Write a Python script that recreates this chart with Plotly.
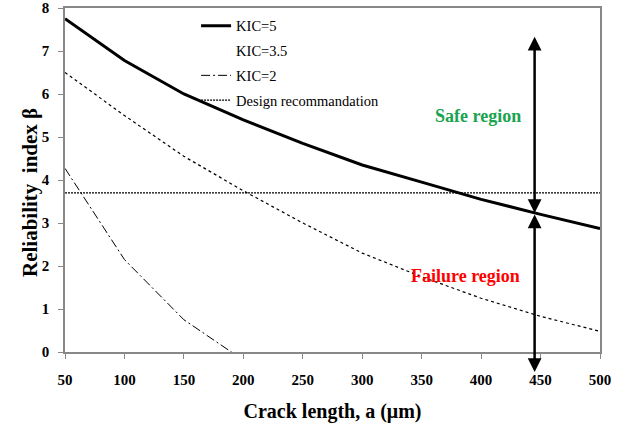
import plotly.graph_objects as go

crack = [50, 100, 150, 200, 250, 300, 350, 400, 450, 500]
kic5 = [7.75, 6.78, 6.0, 5.4, 4.85, 4.35, 3.95, 3.55, 3.2, 2.87]
kic35 = [6.5, 5.5, 4.55, 3.75, 3.0, 2.3, 1.75, 1.25, 0.83, 0.48]
crack_kic2 = [50, 100, 150, 200]
kic2 = [4.27, 2.15, 0.75, -0.19]
design_x = [50, 500]
design_y = [3.7, 3.7]
xticks = [50, 100, 150, 200, 250, 300, 350, 400, 450, 500]
yticks = [0, 1, 2, 3, 4, 5, 6, 7, 8]
arrow_x = 445
safe_arrow = [7.33, 3.2]
fail_arrow = [3.2, -0.5]

FONT = "Liberation Serif"

fig = go.Figure()
fig.add_trace(go.Scatter(x=crack, y=kic5, mode="lines", name="KIC=5",
                         line=dict(color="black", width=3), legendgroup="a"))
fig.add_trace(go.Scatter(x=crack, y=kic35, mode="lines", name="KIC=3.5",
                         line=dict(color="black", width=1.2, dash="3px,3px"),
                         showlegend=False, legendgroup="b"))
fig.add_trace(go.Scatter(x=[None], y=[None], mode="lines", name="KIC=3.5",
                         line=dict(color="rgba(0,0,0,0)", width=0), legendgroup="b"))
fig.add_trace(go.Scatter(x=crack_kic2, y=kic2, mode="lines", name="KIC=2",
                         line=dict(color="black", width=1, dash="9px,3px,2px,3px"), legendgroup="c"))
fig.add_trace(go.Scatter(x=design_x, y=design_y, mode="lines", name="Design recommandation",
                         line=dict(color="black", width=1.2, dash="2px,1px"), legendgroup="d"))

for (y0, y1) in [safe_arrow, fail_arrow]:
    fig.add_annotation(x=arrow_x, y=y0, ax=arrow_x, ay=y1, xref="x", yref="y",
                       axref="x", ayref="y", showarrow=True, arrowhead=2,
                       arrowside="end+start", arrowwidth=2.5, arrowsize=1.1,
                       arrowcolor="black", text="")

fig.add_annotation(x=397, y=5.48, xref="x", yref="y", text="<b>Safe region</b>",
                   showarrow=False, font=dict(family=FONT, size=18, color="#1aa350"))
fig.add_annotation(x=387, y=1.77, xref="x", yref="y", text="<b>Failure region</b>",
                   showarrow=False, font=dict(family=FONT, size=18, color="#ff0000"))

# y-axis title placed as a rotated annotation (pixel position converted to paper coords)
pw, ph = 628 - 65 - 28, 434 - 8 - 82
fig.add_annotation(x=(30 - 65) / pw, y=(434 - 82 - 193) / ph, xref="paper", yref="paper",
                   xanchor="center", yanchor="middle",
                   text="<b>Reliability  index β</b>",
                   textangle=-90, showarrow=False, font=dict(family=FONT, size=21))

tickfont = dict(family=FONT, size=15, color="black", weight="bold")
fig.update_layout(
    width=628, height=434,
    margin=dict(l=65, r=28, t=8, b=82),
    paper_bgcolor="white", plot_bgcolor="white",
    font=dict(family=FONT, color="black"),
    showlegend=True,
    legend=dict(x=0.245, y=0.995, xanchor="left", yanchor="top",
                bgcolor="rgba(0,0,0,0)", font=dict(family=FONT, size=14.5),
                tracegroupgap=3, traceorder="grouped"),
    xaxis=dict(range=[50, 500], tickvals=xticks, ticks="outside", ticklen=5,
               tickcolor="#888", linecolor="#888", linewidth=1.5, mirror=True,
               showgrid=False, zeroline=False, automargin=False,
               ticklabelstandoff=8, tickfont=tickfont,
               title=dict(text="<b>Crack length, a (μm)</b>",
                          font=dict(family=FONT, size=20), standoff=17)),
    yaxis=dict(range=[0, 8], tickvals=yticks, ticks="outside", ticklen=5,
               tickcolor="#888", linecolor="#888", linewidth=1.5, mirror=True,
               showgrid=False, zeroline=False, automargin=False,
               ticklabelstandoff=6, tickfont=tickfont),
)

fig.write_html("out.html")
